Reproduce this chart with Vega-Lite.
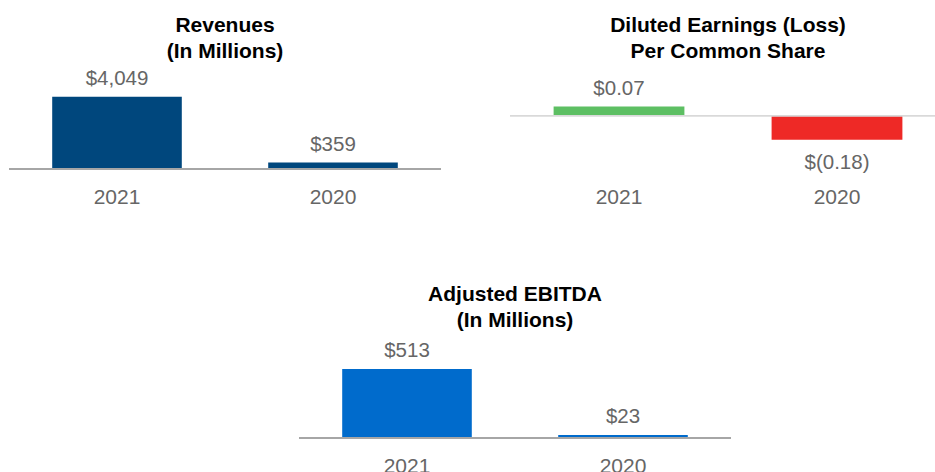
{
  "$schema": "https://vega.github.io/schema/vega-lite/v6.json",
  "background": "white",
  "padding": {"left": 8, "top": 14, "right": 0, "bottom": 0},
  "config": {
    "view": {"stroke": null},
    "font": "Liberation Sans",
    "title": {"fontSize": 21, "fontWeight": "bold", "color": "#000000", "lineHeight": 26, "font": "Liberation Sans", "offset": 7},
    "axisX": {"title": null, "domain": false, "ticks": false, "grid": false, "labelAngle": 0, "labelFontSize": 21, "labelColor": "#666666", "labelFont": "Liberation Sans", "labelPadding": 17}
  },
  "vconcat": [
    {
      "hconcat": [
        {
          "width": 432,
          "height": 100,
          "title": {"text": ["Revenues", "(In Millions)"]},
          "data": {"values": [
            {"year": "2021", "value": 4049, "label": "$4,049"},
            {"year": "2020", "value": 359, "label": "$359"}
          ]},
          "layer": [
            {
              "mark": {"type": "bar", "color": "#00477d"},
              "encoding": {
                "x": {"field": "year", "type": "nominal", "sort": ["2021", "2020"], "scale": {"paddingInner": 0.4, "paddingOuter": 0.2}},
                "y": {"field": "value", "type": "quantitative", "scale": {"domain": [0, 5600], "nice": false}, "axis": null}
              }
            },
            {
              "mark": {"type": "rule", "color": "#a6a6a6", "strokeWidth": 2},
              "encoding": {"y": {"datum": 0, "type": "quantitative"}}
            },
            {
              "mark": {"type": "text", "baseline": "alphabetic", "dy": -12, "fontSize": 20.5, "color": "#666666"},
              "encoding": {
                "x": {"field": "year", "type": "nominal", "sort": ["2021", "2020"]},
                "y": {"field": "value", "type": "quantitative"},
                "text": {"field": "label"}
              }
            }
          ]
        },
        {
          "width": 425,
          "height": 100,
          "title": {"text": ["Diluted Earnings (Loss)", "Per Common Share"], "dx": 5.5},
          "data": {"values": [
            {"year": "2021", "value": 0.07, "label": "$0.07"},
            {"year": "2020", "value": -0.18, "label": "$(0.18)"}
          ]},
          "layer": [
            {
              "mark": {"type": "bar"},
              "encoding": {
                "x": {"field": "year", "type": "nominal", "sort": ["2021", "2020"], "scale": {"paddingInner": 0.4, "paddingOuter": 0.1748, "align": 0.5722}},
                "y": {"field": "value", "type": "quantitative", "scale": {"domain": [-0.4, 0.351], "nice": false}, "axis": null},
                "color": {"field": "year", "type": "nominal", "scale": {"domain": ["2021", "2020"], "range": ["#5dbf63", "#ee2926"]}, "legend": null}
              }
            },
            {
              "mark": {"type": "rule", "color": "#d9d9d9", "strokeWidth": 1.5},
              "encoding": {"y": {"datum": 0, "type": "quantitative"}}
            },
            {
              "transform": [{"filter": "datum.value >= 0"}],
              "mark": {"type": "text", "baseline": "alphabetic", "dy": -11, "fontSize": 20.5, "color": "#666666"},
              "encoding": {
                "x": {"field": "year", "type": "nominal", "sort": ["2021", "2020"]},
                "y": {"field": "value", "type": "quantitative"},
                "text": {"field": "label"}
              }
            },
            {
              "transform": [{"filter": "datum.value < 0"}],
              "mark": {"type": "text", "baseline": "alphabetic", "dy": 29, "fontSize": 20.5, "color": "#666666"},
              "encoding": {
                "x": {"field": "year", "type": "nominal", "sort": ["2021", "2020"]},
                "y": {"field": "value", "type": "quantitative"},
                "text": {"field": "label"}
              }
            }
          ]
        }
      ],
      "spacing": 67
    },
    {
      "hconcat": [
        {
          "width": 272,
          "height": 100,
          "data": {"values": []},
          "mark": "point"
        },
        {
          "width": 432,
          "height": 100,
          "title": {"text": ["Adjusted EBITDA", "(In Millions)"]},
          "data": {"values": [
            {"year": "2021", "value": 513, "label": "$513"},
            {"year": "2020", "value": 23, "label": "$23"}
          ]},
          "layer": [
            {
              "mark": {"type": "bar", "color": "#006bcc"},
              "encoding": {
                "x": {"field": "year", "type": "nominal", "sort": ["2021", "2020"], "scale": {"paddingInner": 0.4, "paddingOuter": 0.2}},
                "y": {"field": "value", "type": "quantitative", "scale": {"domain": [0, 743.5], "nice": false}, "axis": null}
              }
            },
            {
              "mark": {"type": "rule", "color": "#a6a6a6", "strokeWidth": 2},
              "encoding": {"y": {"datum": 0, "type": "quantitative"}}
            },
            {
              "mark": {"type": "text", "baseline": "alphabetic", "dy": -12, "fontSize": 20.5, "color": "#666666"},
              "encoding": {
                "x": {"field": "year", "type": "nominal", "sort": ["2021", "2020"]},
                "y": {"field": "value", "type": "quantitative"},
                "text": {"field": "label"}
              }
            }
          ]
        }
      ],
      "spacing": 17
    }
  ],
  "spacing": 77
}
